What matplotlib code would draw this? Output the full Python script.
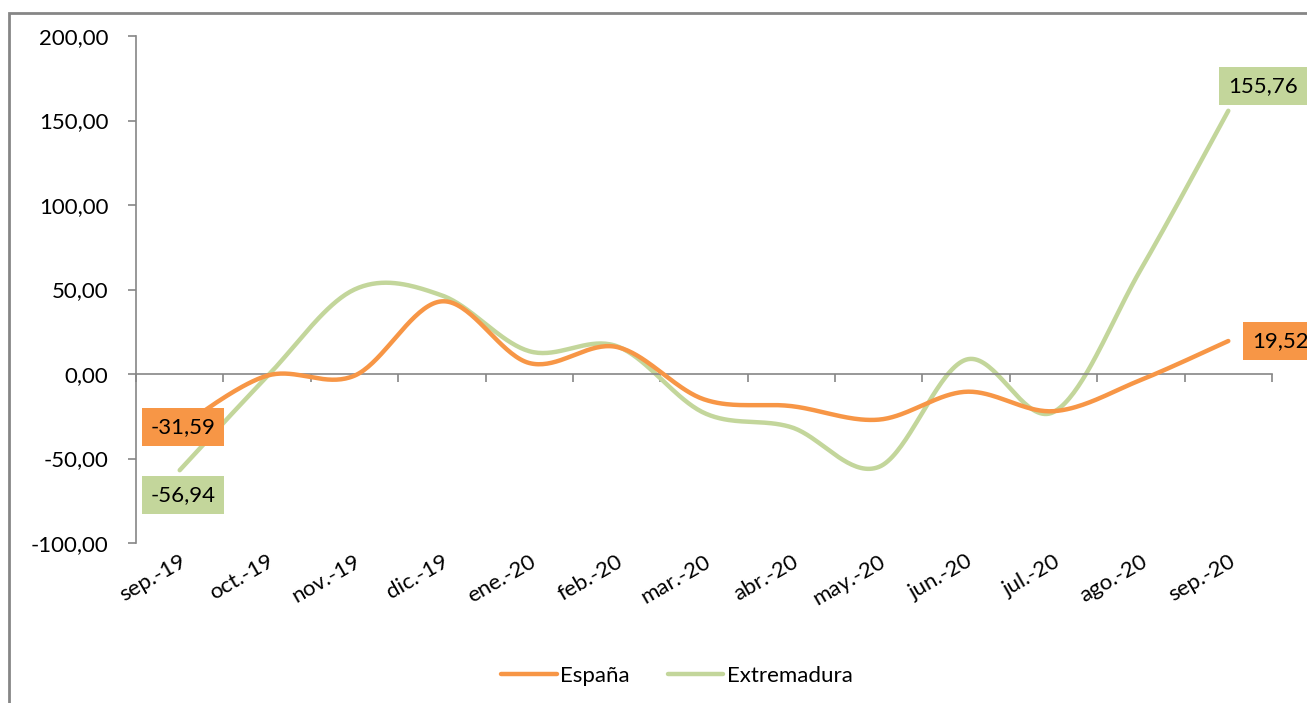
import numpy as np
import matplotlib
matplotlib.use("Agg")
import matplotlib.pyplot as plt
from matplotlib.patches import Rectangle
from matplotlib.ticker import FuncFormatter, FixedLocator

# ---- data ----
months = ["sep.-19", "oct.-19", "nov.-19", "dic.-19", "ene.-20", "feb.-20", "mar.-20",
          "abr.-20", "may.-20", "jun.-20", "jul.-20", "ago.-20", "sep.-20"]
espana = [-31.59, -1.0, -1.0, 43.0, 6.5, 16.0, -15.0, -19.0, -27.0, -10.5, -22.0, -3.5, 19.52]
extremadura = [-56.94, -1.5, 50.0, 46.5, 13.5, 16.5, -23.0, -31.5, -55.0, 8.5, -22.5, 62.0, 155.76]
series_names = ["España", "Extremadura"]
y_ticks = [-100, -50, 0, 50, 100, 150, 200]

ORANGE = "#F79646"
GREEN = "#C3D69B"
GRAY = "#868686"
FS = 16

plt.rcParams["font.family"] = ["Lato", "DejaVu Sans"]


def smooth(xs, ys, n=40):
    """Excel-style smoothed line (Catmull-Rom as cubic Bezier segments)."""
    P = np.column_stack([xs, ys]).astype(float)
    Pe = np.vstack([P[0], P, P[-1]])
    out = []
    t = np.linspace(0, 1, n)[:, None]
    for i in range(len(P) - 1):
        p0, p1 = Pe[i + 1], Pe[i + 2]
        c1 = p0 + (Pe[i + 2] - Pe[i]) / 6.0
        c2 = p1 - (Pe[i + 3] - Pe[i + 1]) / 6.0
        seg = ((1 - t) ** 3) * p0 + 3 * ((1 - t) ** 2) * t * c1 + 3 * (1 - t) * t ** 2 * c2 + t ** 3 * p1
        out.append(seg if i == 0 else seg[1:])
    out = np.vstack(out)
    return out[:, 0], out[:, 1]


fig = plt.figure(figsize=(13.07, 7.03), dpi=100)
ax = fig.add_axes([136 / 1307, 1 - 543 / 703, (1272 - 136) / 1307, (543 - 36) / 703])

x = np.arange(len(months))
sx, sy = smooth(x, espana)
ax.plot(sx, sy, color=ORANGE, lw=3.2, solid_capstyle="round", label=series_names[0], zorder=3)
gx, gy = smooth(x, extremadura)
ax.plot(gx, gy, color=GREEN, lw=3.2, solid_capstyle="round", label=series_names[1], zorder=2)

ax.set_xlim(-0.5, len(months) - 0.5)
ax.set_ylim(-100, 200)
ax.set_yticks(y_ticks)
ax.yaxis.set_major_formatter(FuncFormatter(lambda v, p: f"{v:.2f}".replace(".", ",")))

for s in ["top", "right"]:
    ax.spines[s].set_visible(False)
ax.spines["left"].set_color(GRAY)
ax.spines["left"].set_linewidth(1.2)
ax.spines["bottom"].set_position(("data", 0))
ax.spines["bottom"].set_color(GRAY)
ax.spines["bottom"].set_linewidth(1.2)

ax.tick_params(axis="y", direction="out", length=6, width=1.2, color=GRAY, labelsize=FS, pad=14)
ax.xaxis.set_major_locator(FixedLocator(np.arange(len(months) + 1) - 0.5))
ax.tick_params(axis="x", direction="out", length=6, width=1.2, color=GRAY, labelbottom=False)

sec = ax.secondary_xaxis(0.0)
sec.set_xticks(x)
sec.set_xticklabels(months, rotation=30, ha="right", rotation_mode="anchor", fontsize=FS)
sec.tick_params(length=0, pad=6)
sec.spines["bottom"].set_visible(False)

# data labels
def label(xi, yi, txt, color, dx, dy):
    ax.annotate(txt, (xi, yi), xytext=(dx, dy), textcoords="offset points",
                ha="left", va="center", fontsize=FS, color="black",
                bbox=dict(boxstyle="square,pad=0.4", fc=color, ec="none"),
                zorder=5, annotation_clip=False)

fmt = lambda v: f"{v:.2f}".replace(".", ",")
label(x[0], espana[0], fmt(espana[0]), ORANGE, -21, 0)
label(x[0], extremadura[0], fmt(extremadura[0]), GREEN, -21, -18)
label(x[-1], extremadura[-1], fmt(extremadura[-1]), GREEN, 0, 18)
label(x[-1], espana[-1], fmt(espana[-1]), ORANGE, 17, 0)

fig.legend(loc="center", bbox_to_anchor=(677 / 1307, 1 - 676 / 703), ncol=2, frameon=False,
           fontsize=FS, handlelength=2.5, columnspacing=1.7, handletextpad=0.15)

# outer chart border
fig.patches.append(Rectangle((9 / 1307, -0.5), 2.0, 0.5 + (1 - 13 / 703), transform=fig.transFigure,
                             fill=False, ec=GRAY, lw=2.0, zorder=0))

fig.savefig("out.png", dpi=100)
